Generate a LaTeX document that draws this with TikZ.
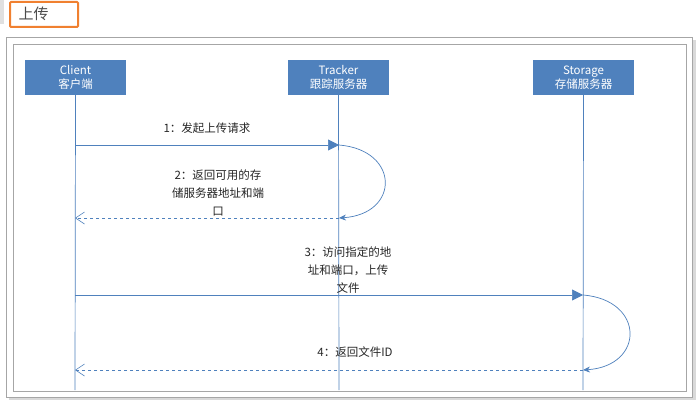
\documentclass[tikz,border=0pt]{standalone}
\usepackage{fontspec}
\setmainfont{Noto Sans CJK SC}
\usetikzlibrary{arrows.meta}
\definecolor{blu}{HTML}{4F81BD}
\definecolor{org}{HTML}{F08030}
\tikzset{x=1pt,y=-1pt,
 actor/.style={fill=blu,text=white,minimum width=101pt,minimum height=35pt,inner sep=0pt,align=center,font=\fontsize{11.5}{14}\selectfont},
 life/.style={blu,line width=0.7pt},
 msg/.style={blu,line width=0.7pt},
 lbl/.style={align=center,font=\fontsize{11.5}{18}\selectfont,text=black!85},
 fillhead/.style={-{Triangle[length=11pt,width=11pt]}},
 openhead/.style={-{Straight Barb[length=9pt,width=12pt,line width=0.6pt]}},
}
\begin{document}
\begin{tikzpicture}
\useasboundingbox (0,0) rectangle (700,406);
\fill[white] (0,0) rectangle (700,406);
\fill[black!12] (0,0) rectangle (4,24);
\draw[org,line width=2pt,rounded corners=1pt] (10,2) rectangle (78,27);
\node[anchor=west,font=\fontsize{15}{16}\selectfont,text=black!70] (title) at (15,14) {上传};
\fill[black!15] (9,40) rectangle (696,400);
\draw[black!35,fill=white] (6,37) rectangle (692,397);
\draw[black!35] (13,44) rectangle (686,391);
\node[actor] (c) at (75.5,77.5) {Client\\客户端};
\node[actor] (t) at (338.5,77.5) {Tracker\\跟踪服务器};
\node[actor] (s) at (583.5,77.5) {Storage\\存储服务器};
\coordinate (ce) at (75,390); \coordinate (te) at (339,390); \coordinate (se) at (583,390);
\draw[life] (c.south) -- (ce);
\draw[life] (t.south) -- (te);
\draw[life] (s.south) -- (se);
\coordinate (c1) at (75,145); \coordinate (t1) at (339,145);
\coordinate (t2) at (339,218); \coordinate (c2) at (75,218);
\coordinate (c3) at (75,295); \coordinate (s3) at (583,295);
\coordinate (s4) at (583,370); \coordinate (c4) at (75,370);
\draw[msg,fillhead] (c1) -- (t1);
\draw[msg,-{Stealth[length=7pt,width=6pt]}] (t1) .. controls (400,150) and (400,214) .. (t2);
\draw[msg,dashed,openhead] (t2) -- (c2);
\draw[msg,fillhead] (c3) -- (s3);
\draw[msg,-{Stealth[length=7pt,width=6pt]}] (s3) .. controls (645,300) and (645,366) .. (s4);
\draw[msg,dashed,openhead] (s4) -- (c4);
\node[lbl] (l1) at (207,128) {1：发起上传请求};
\node[lbl] (l2) at (218,193) {2：返回可用的存\\储服务器地址和端\\口};
\node[lbl] (l3) at (348,270) {3：访问指定的地\\址和端口，上传\\文件};
\node[lbl] (l4) at (355,352) {4：返回文件ID};
\end{tikzpicture}
\end{document}
